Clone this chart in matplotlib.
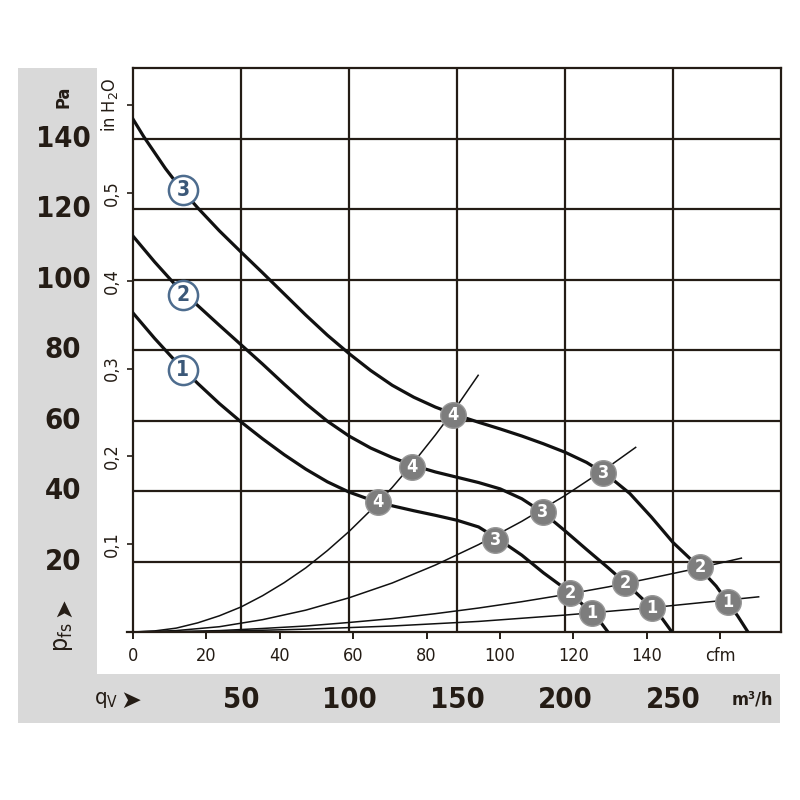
import matplotlib
matplotlib.use("Agg")
import matplotlib.pyplot as plt
import matplotlib.transforms as mtransforms
from matplotlib.patches import Rectangle
from matplotlib import font_manager

# ---------------- data (q in m3/h, p in Pa) ----------------
curve3_q = [0, 5, 10, 15, 20, 25, 30, 40, 50, 60, 70, 80, 90, 100, 110, 120, 130, 140, 150, 160, 170,
            180, 190, 200, 210, 220, 230, 240, 250, 260, 270, 280, 284.7]
curve3_p = [145.5, 140.5, 136.0, 131.5, 127.5, 123.8, 120.3, 113.8, 107.8, 101.9, 95.9, 89.9, 84.2, 79.0,
            74.2, 70.0, 66.6, 63.8, 61.5, 59.5, 57.6, 55.6, 53.4, 51.0, 48.1, 44.3, 39.3, 32.6, 25.4,
            19.6, 13.0, 4.5, 0]
curve2_q = [0, 10, 20, 30, 40, 50, 60, 70, 80, 90, 100, 110, 120, 130, 140, 150, 160, 170, 180, 190,
            200, 210, 220, 230, 240, 245, 249.5]
curve2_p = [112.3, 105.0, 98.2, 92.6, 87.0, 81.5, 76.0, 70.3, 64.8, 59.8, 55.6, 52.2, 49.5, 47.2, 45.4,
            43.9, 42.4, 40.6, 37.8, 33.8, 28.7, 23.4, 18.2, 12.8, 7.0, 3.8, 0]
curve1_q = [0, 10, 20, 30, 40, 50, 60, 70, 80, 90, 100, 110, 120, 130, 140, 150, 160, 170, 180, 190,
            200, 210, 215, 219.9]
curve1_p = [90.5, 83.3, 76.6, 70.5, 64.8, 59.6, 54.8, 50.3, 46.2, 42.6, 39.7, 37.5, 35.8, 34.4, 33.1,
            31.7, 29.8, 26.0, 21.8, 16.8, 12.3, 6.8, 4.0, 0]

sys4_q = [0, 10, 20, 30, 40, 50, 60, 70, 80, 90, 100, 110, 120, 130, 140, 150, 160]
sys4_p = [0, 0.3, 1.1, 2.6, 4.6, 7.1, 10.3, 14.0, 18.2, 23.1, 28.5, 34.5, 41.0, 48.2, 55.9, 64.1, 73.0]
sys3_q = [0, 20, 40, 60, 80, 100, 120, 140, 160, 180, 200, 220, 233]
sys3_p = [0, 0.4, 1.5, 3.5, 6.2, 9.7, 13.9, 19.0, 24.8, 31.4, 38.7, 46.8, 52.5]
sys2_q = [0, 20, 40, 60, 80, 100, 120, 140, 160, 180, 200, 220, 240, 260, 282]
sys2_p = [0, 0.1, 0.4, 1.0, 1.7, 2.7, 3.8, 5.2, 6.8, 8.6, 10.6, 12.8, 15.3, 17.9, 21.0]
sys1_q = [0, 40, 80, 120, 160, 200, 240, 290]
sys1_p = [0, 0.2, 0.8, 1.7, 3.0, 4.8, 6.9, 10.0]

point_q = [148.1, 217.6, 262.5, 275.5, 129.2, 189.8, 227.8, 240.3, 113.4, 167.6, 202.3, 212.5]
point_p = [61.6, 45.1, 18.4, 8.5, 46.8, 34.0, 13.9, 6.8, 36.9, 26.1, 11.1, 5.4]
point_lbl = ["4", "3", "2", "1", "4", "3", "2", "1", "4", "3", "2", "1"]

curve_lbl = ["3", "2", "1"]
curve_lbl_q = [23.1, 23.1, 23.1]
curve_lbl_p = [125.4, 95.6, 74.3]

pa_ticks = [20, 40, 60, 80, 100, 120, 140]
m3h_ticks = [50, 100, 150, 200, 250]
cfm_ticks = [0, 20, 40, 60, 80, 100, 120, 140]
inh2o_ticks = [0.1, 0.2, 0.3, 0.4, 0.5]
inh2o_labels = ["0,1", "0,2", "0,3", "0,4", "0,5"]

CFM = 1.699      # m3/h per cfm
INH2O = 249.09   # Pa per inH2O

# ---------------- fonts ----------------
_fonts = font_manager.fontManager.ttflist
_names = {f.name for f in _fonts}
if "Liberation Sans Narrow" in _names:
    FONT = dict(family=["Liberation Sans Narrow", "DejaVu Sans"])
elif any(f.name == "DejaVu Sans" and str(f.stretch) in ("condensed", "semi-condensed", "400", "500")
         for f in _fonts):
    FONT = dict(family=["DejaVu Sans"], fontstretch="condensed")
elif "Roboto Condensed" in _names:
    FONT = dict(family=["Roboto Condensed", "DejaVu Sans"])
else:
    FONT = dict(family=["Liberation Sans", "DejaVu Sans"])

# ---------------- styles ----------------
DARK = "#241c15"
GRAY_BG = "#d9d9d9"

fig = plt.figure(figsize=(8, 8), dpi=100)
fig.patch.set_facecolor("white")

# gray L-shaped panel
fig.patches.append(Rectangle((18/800, 1-723/800), 79/800, (723-68)/800,
                             transform=fig.transFigure, facecolor=GRAY_BG, edgecolor="none", zorder=0))
fig.patches.append(Rectangle((18/800, 1-723/800), (780-18)/800, (723-674)/800,
                             transform=fig.transFigure, facecolor=GRAY_BG, edgecolor="none", zorder=0))

ax = fig.add_axes([133/800, 1-632/800, (781-133)/800, (632-68)/800])
ax.set_facecolor("white")
ax.set_xlim(0, 300)
ax.set_ylim(0, 160)

for s in ax.spines.values():
    s.set_color(DARK)
    s.set_linewidth(1.6)

for g in m3h_ticks:
    ax.axvline(g, color=DARK, lw=1.6, zorder=1)
for g in pa_ticks:
    ax.axhline(g, color=DARK, lw=1.6, zorder=1)

# system (resistance) curves
for q, p in [(sys1_q, sys1_p), (sys2_q, sys2_p), (sys3_q, sys3_p), (sys4_q, sys4_p)]:
    ax.plot(q, p, color="#111111", lw=1.1, zorder=2, solid_capstyle="butt")

# fan curves
for q, p in [(curve1_q, curve1_p), (curve2_q, curve2_p), (curve3_q, curve3_p)]:
    ax.plot(q, p, color="#111111", lw=2.3, zorder=3, solid_joinstyle="round")

# operating points
ax.scatter(point_q, point_p, s=340, color="#7d7d7d", edgecolors="#989898", linewidths=1.0, zorder=5)
for q, p, t in zip(point_q, point_p, point_lbl):
    ax.text(q, p, t, ha="center", va="center", color="white", fontsize=13, fontweight="bold",
            zorder=6, **FONT)

# curve labels
ax.scatter(curve_lbl_q, curve_lbl_p, s=440, color="white", edgecolors="#4d6c8e", linewidths=1.8, zorder=5)
for q, p, t in zip(curve_lbl_q, curve_lbl_p, curve_lbl):
    ax.text(q, p, t, ha="center", va="center", color="#3b5878", fontsize=15, fontweight="bold",
            zorder=6, **FONT)

# cfm ticks (bottom)
ax.set_xticks([c * CFM for c in cfm_ticks] + [160 * CFM])
ax.set_xticklabels([str(c) for c in cfm_ticks] + ["cfm"], fontsize=13, color=DARK, **FONT)
ax.tick_params(axis="x", direction="out", length=5, width=1.4, color=DARK, pad=6)

# inH2O ticks (left)
ax.set_yticks([v * INH2O for v in inh2o_ticks] + [0.6 * INH2O])
ax.set_yticklabels(inh2o_labels + ["in H$_2$O"], rotation=90, va="center", fontsize=13,
                   color=DARK, **FONT)
ax.tick_params(axis="y", direction="out", length=4, width=1.2, color=DARK, pad=5)
for lab in ax.get_yticklabels():
    lab.set_verticalalignment("center")

# small extension of baseline to the left
ax.plot([-3, 0], [0, 0], color=DARK, lw=1.6, clip_on=False, zorder=2)

# left Pa labels
tr_left = mtransforms.blended_transform_factory(fig.transFigure, ax.transData)
for v in pa_ticks:
    fig.text(63/800, v, str(v), transform=tr_left, ha="center", va="center",
             fontsize=21, fontweight="bold", color=DARK, **FONT)
fig.text(63/800, 1-97/800, "Pa", rotation=90, ha="center", va="center",
         fontsize=13, fontweight="bold", color=DARK, **FONT)
fig.text(63/800, 1-607/800, "\u27a4", rotation=90, ha="center", va="center",
         fontsize=17, family=["DejaVu Sans"], color=DARK)
fig.text(63/800, 1-637/800, "p$_\\mathregular{fs}$", rotation=90, ha="center", va="center",
         fontsize=18, color=DARK, **FONT)

# bottom m3/h labels
tr_bot = mtransforms.blended_transform_factory(ax.transData, fig.transFigure)
for v in m3h_ticks:
    fig.text(v, 1-700/800, str(v), transform=tr_bot, ha="center", va="center",
             fontsize=21, fontweight="bold", color=DARK, **FONT)
fig.text(752/800, 1-700/800, "m\u00b3/h", ha="center", va="center",
         fontsize=13, fontweight="bold", color=DARK, **FONT)
fig.text(106/800, 1-700/800, "q$_\\mathregular{V}$", ha="center", va="center",
         fontsize=16, color=DARK, **FONT)
fig.text(131/800, 1-701/800, "\u27a4", ha="center", va="center",
         fontsize=18, family=["DejaVu Sans"], color=DARK)

fig.savefig("out.png", dpi=100)
